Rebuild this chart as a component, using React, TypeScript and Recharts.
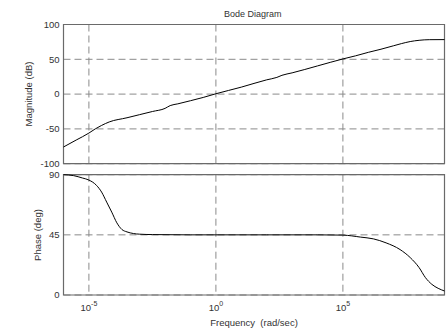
import React from 'react';
import { LineChart, Line, XAxis, YAxis, CartesianGrid, ReferenceArea } from 'recharts';

// log10 of frequency (rad/sec) and magnitude in dB
const MAG_EXP = [-6, -5.5, -5, -4.75, -4.5, -4.2, -3.5, -3, -2.5, -2, -1.8, -1.5, -1, -0.5, 0, 1, 2, 2.4, 2.6, 3, 4, 5, 5.5, 6, 6.5, 7, 7.3, 7.65, 8, 8.4, 9];
const MAG_DB = [-76, -66, -56, -50, -45, -40, -34, -29.5, -25, -20.5, -16.5, -14, -9.5, -4.8, 0.5, 10, 20.5, 24, 27, 30.5, 40.5, 50.5, 55, 60, 64.5, 69.5, 72.5, 75.5, 77.3, 78.2, 78.3];

// log10 of frequency and phase in degrees
const PHASE_EXP = [-6, -5.6, -5.25, -5, -4.7, -4.5, -4.3, -4.1, -3.9, -3.7, -3.5, -3.25, -3, -2.5, -1, 0, 2, 4, 5, 5.7, 6.2, 6.7, 7.25, 7.65, 8, 8.25, 8.5, 8.75, 9];
const PHASE_DEG = [90, 89.3, 87.5, 86, 82, 77, 69.5, 62, 54, 49, 47.2, 46, 45.5, 45.2, 45, 45, 45, 45, 44.8, 43.3, 42, 39, 34, 28, 20.5, 13, 8, 5, 3];

const X_TICKS = [1e-5, 1, 1e5];
const MAG_TICKS = [-100, -50, 0, 50, 100];
const PHASE_TICKS = [0, 45, 90];

const TITLE = 'Bode Diagram';
const MAG_LABEL = 'Magnitude (dB)';
const PHASE_LABEL = 'Phase (deg)';
const X_LABEL = 'Frequency\u00a0 (rad/sec)';

const magData = MAG_EXP.map((e, i) => ({ w: Math.pow(10, e), v: MAG_DB[i] }));
const phaseData = PHASE_EXP.map((e, i) => ({ w: Math.pow(10, e), v: PHASE_DEG[i] }));

const FONT = '"Liberation Sans", Arial, Helvetica, sans-serif';
const TXT = '#333';
const GRID = '#8a8a8a';
const BOX = '#6a6a6a';

const XTick = (props: any) => {
  const { x, y, payload } = props;
  const e = Math.round(Math.log10(payload.value));
  return (
    <text x={x} y={y + 16} textAnchor="middle" fontSize={9.5} fontFamily={FONT} fill={TXT}>
      <tspan>10</tspan>
      <tspan dy={-5} fontSize={7}>{e}</tspan>
    </text>
  );
};

const EmptyTick = () => <g />;

const W = 448;
const H = 331;

export default function App() {
  return (
    <div style={{ position: 'absolute', left: 0, top: 0, width: W, height: H, background: '#fff', fontFamily: FONT }}>
      <div style={{ position: 'absolute', left: 0, top: 0 }}>
        <LineChart width={W} height={H} data={magData} margin={{ top: 24.5, right: 3.5, bottom: H - 163.7, left: 0 }}>
          <CartesianGrid stroke={GRID} strokeDasharray="7 4" />
          <XAxis
            dataKey="w"
            type="number"
            scale="log"
            domain={[1e-6, 1e9]}
            ticks={X_TICKS}
            height={0}
            interval={0}
            tick={<EmptyTick />}
            tickLine={false}
            axisLine={false}
          />
          <YAxis
            type="number"
            domain={[-100, 100]}
            ticks={MAG_TICKS}
            width={63.5}
            tickLine={false}
            axisLine={false}
            tickSize={0}
            tickMargin={4}
            interval={0}
            tick={{ fontSize: 9.5, fontFamily: FONT, fill: TXT }}
            label={() => (
              <text x={28.5} y={94} transform="rotate(-90 28.5 94)" textAnchor="middle" dominantBaseline="central" fontSize={9.5} fontFamily={FONT} fill={TXT}>
                {MAG_LABEL}
              </text>
            )}
          />
          <ReferenceArea
            x1={1e-6}
            x2={1e9}
            y1={-100}
            y2={100}
            fill="none"
            fillOpacity={0}
            stroke={BOX}
            strokeWidth={1.2}
            ifOverflow="visible"
            label={() => (
              <text x={252.7} y={16.5} textAnchor="middle" fontSize={9} fontFamily={FONT} fill={TXT}>
                {TITLE}
              </text>
            )}
          />
          <Line dataKey="v" type="monotone" stroke="#000" strokeWidth={1} dot={false} isAnimationActive={false} />
        </LineChart>
      </div>
      <div style={{ position: 'absolute', left: 0, top: 0 }}>
        <LineChart width={W} height={H} data={phaseData} margin={{ top: 174.7, right: 3.5, bottom: 0, left: 0 }}>
          <CartesianGrid stroke={GRID} strokeDasharray="7 4" />
          <XAxis
            dataKey="w"
            type="number"
            scale="log"
            domain={[1e-6, 1e9]}
            ticks={X_TICKS}
            height={36}
            tickLine={false}
            axisLine={false}
            tickSize={0}
            tickMargin={0}
            interval={0}
            tick={<XTick />}
            label={{ value: X_LABEL, position: 'insideBottom', offset: 5, fontSize: 9.5, fontFamily: FONT, fill: TXT }}
          />
          <YAxis
            type="number"
            domain={[0, 90]}
            ticks={PHASE_TICKS}
            width={63.5}
            tickLine={false}
            axisLine={false}
            tickSize={0}
            tickMargin={4}
            interval={0}
            tick={{ fontSize: 9.5, fontFamily: FONT, fill: TXT }}
            label={() => (
              <text x={37} y={235} transform="rotate(-90 37 235)" textAnchor="middle" dominantBaseline="central" fontSize={9.5} fontFamily={FONT} fill={TXT}>
                {PHASE_LABEL}
              </text>
            )}
          />
          <ReferenceArea x1={1e-6} x2={1e9} y1={0} y2={90} fill="none" fillOpacity={0} stroke={BOX} strokeWidth={1.2} ifOverflow="visible" />
          <Line dataKey="v" type="monotone" stroke="#000" strokeWidth={1} dot={false} isAnimationActive={false} />
        </LineChart>
      </div>
    </div>
  );
}
